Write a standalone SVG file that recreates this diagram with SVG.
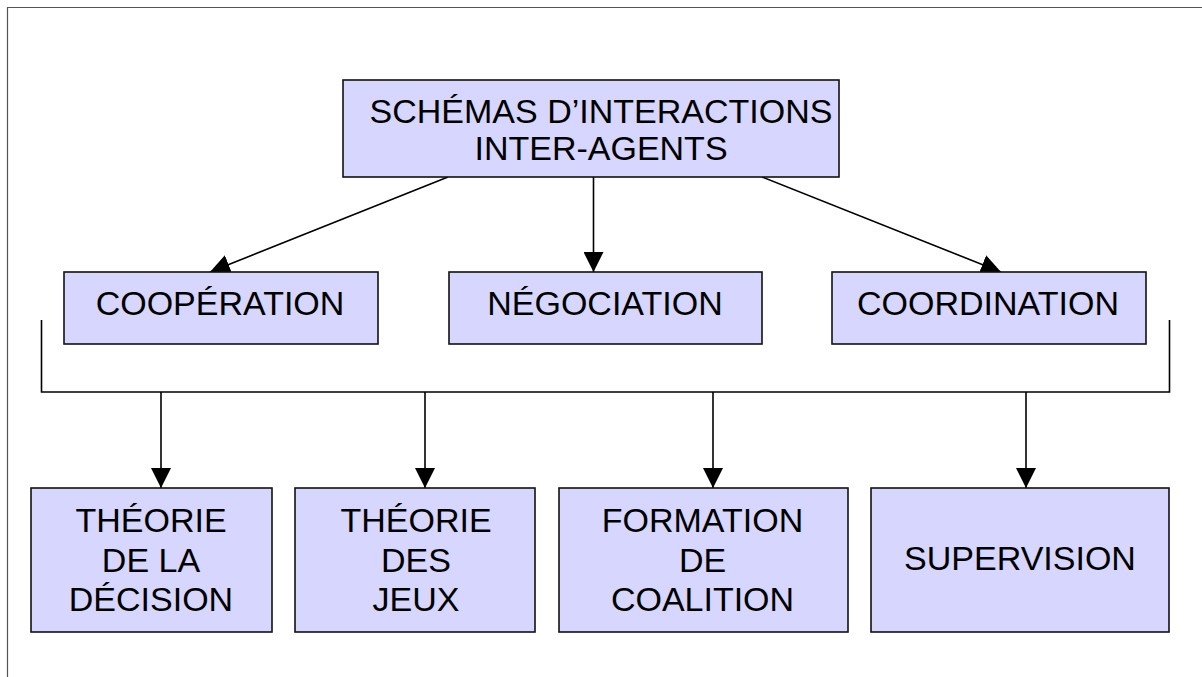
<svg xmlns="http://www.w3.org/2000/svg" width="1202" height="677" viewBox="0 0 1202 677">
<style>
.box{fill:#D6D6FF;stroke:#111;stroke-width:1.6}
.t{font-family:"Liberation Sans",Arial,sans-serif;font-size:34px;fill:#000;text-anchor:middle}
.c{stroke:#000;stroke-width:1.6;fill:none}
</style>
<defs>
<marker id="ah" markerUnits="userSpaceOnUse" markerWidth="20" markerHeight="20" refX="20" refY="10" orient="auto" viewBox="0 0 20 20">
<path d="M0,0 L20,10 L0,20 z" fill="#000"/>
</marker>
</defs>
<rect width="1202" height="677" fill="#fff"/>
<path d="M7.5,677 V7.5 H1202" fill="none" stroke="#555" stroke-width="1.2"/>
<g id="connectors">
<line class="c" x1="448" y1="177" x2="210" y2="272" marker-end="url(#ah)"/>
<line class="c" x1="593.5" y1="177" x2="593.5" y2="272" marker-end="url(#ah)"/>
<line class="c" x1="762" y1="177" x2="1001" y2="272" marker-end="url(#ah)"/>
<path class="c" d="M41.5,320 V392 H1169.5 V320"/>
<line class="c" x1="161" y1="392" x2="161" y2="488" marker-end="url(#ah)"/>
<line class="c" x1="425" y1="392" x2="425" y2="488" marker-end="url(#ah)"/>
<line class="c" x1="713" y1="392" x2="713" y2="488" marker-end="url(#ah)"/>
<line class="c" x1="1026" y1="392" x2="1026" y2="488" marker-end="url(#ah)"/>
</g>
<g id="root">
<rect class="box" x="343" y="80" width="496" height="97"/>
<text class="t" x="601" y="123">SCHÉMAS D’INTERACTIONS</text>
<text class="t" x="601" y="160">INTER-AGENTS</text>
</g>
<g id="cooperation">
<rect class="box" x="64" y="272" width="314" height="72"/>
<text class="t" x="220" y="315">COOPÉRATION</text>
</g>
<g id="negociation">
<rect class="box" x="449" y="272" width="313" height="72"/>
<text class="t" x="605" y="315">NÉGOCIATION</text>
</g>
<g id="coordination">
<rect class="box" x="832" y="272" width="314" height="72"/>
<text class="t" x="988" y="315">COORDINATION</text>
</g>
<g id="decision">
<rect class="box" x="31" y="488" width="241" height="144"/>
<text class="t" x="151" y="532">THÉORIE</text>
<text class="t" x="151" y="572">DE LA</text>
<text class="t" x="151" y="611">DÉCISION</text>
</g>
<g id="jeux">
<rect class="box" x="295" y="488" width="240" height="144"/>
<text class="t" x="416" y="532">THÉORIE</text>
<text class="t" x="416" y="572">DES</text>
<text class="t" x="416" y="611">JEUX</text>
</g>
<g id="coalition">
<rect class="box" x="559" y="488" width="289" height="144"/>
<text class="t" x="702.5" y="532">FORMATION</text>
<text class="t" x="702.5" y="572">DE</text>
<text class="t" x="702.5" y="611">COALITION</text>
</g>
<g id="supervision">
<rect class="box" x="871" y="488" width="298" height="144"/>
<text class="t" x="1020" y="570">SUPERVISION</text>
</g>
</svg>
